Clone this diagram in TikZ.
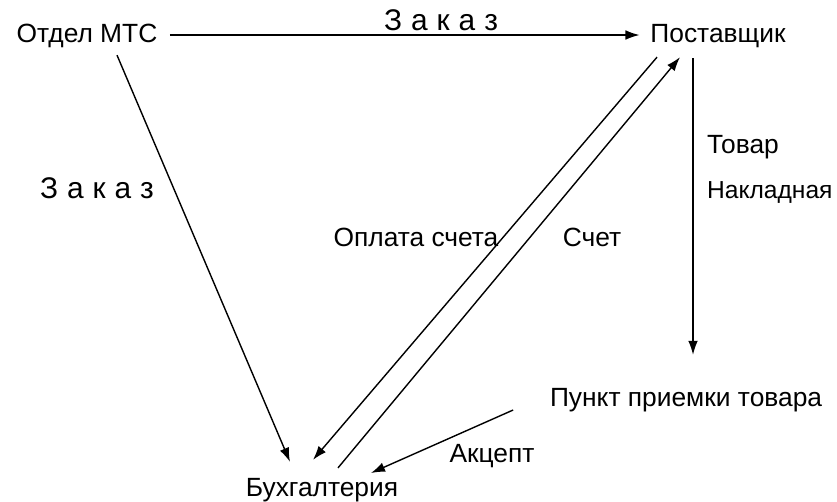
\documentclass[tikz,border=0pt]{standalone}
\usepackage{fontspec}
\setmainfont{Liberation Sans}
\usetikzlibrary{arrows.meta,calc}

\tikzset{
  unit/.style={font=\fontsize{15}{18}\selectfont, text height=11pt, text depth=3pt, inner sep=2pt},
  lbl/.style={font=\fontsize{15}{18}\selectfont, inner sep=1pt},
  spaced/.style={font=\fontsize{17}{20}\selectfont, inner sep=1pt},
  flow/.style={->, line width=0.8pt}
}
\newcommand{\gp}{\hspace{0.3em}}

\begin{document}
\begin{tikzpicture}[x = 0.02cm,y = -0.02cm, >={Latex[length=8pt,width=5.5pt]}]
\useasboundingbox (0,0) rectangle (837,501);
              %units
\node [unit] (mts) at (87,35) {Отдел МТС};
\node [unit] (post) at (718,35) {Поставщик};
\node [unit] (punkt) at (686,399) {Пункт приемки товара};
\node [unit] (buh) at (322,489) {Бухгалтерия};
              %labels
\node [spaced] (zak1) at (441,20) {З\gp а\gp к\gp а\gp з};
\node [spaced] (zak2) at (97,188) {З\gp а\gp к\gp а\gp з};
\node [lbl] (opl) at (416,237) {Оплата счета};
\node [lbl] (sch) at (592,237) {Счет};
\node [lbl, anchor=west] (tov) at (705,147) {Товар};
\node [lbl, anchor=west, font=\fontsize{14}{17}\selectfont] (nakl) at (705,192) {Накладная};
\node [lbl] (akc) at (492,456) {Акцепт};
              %flows
\draw [flow, shorten <=5pt, shorten >=4pt] (mts.east) -- (post.west);
\draw [flow] ($(mts.south)+(30,4)$) -- ($(buh.north)+(-32,-11)$);
\draw [flow] ($(post.south)+(-61,6)$) -- ($(buh.north)+(-9,-13)$);
\draw [flow] ($(buh.north)+(16,-5)$) -- ($(post.south)+(-38,6)$);
\draw [flow] ($(post.south)+(-25,7)$) -- ($(punkt.north)+(7,-28)$);
\draw [flow] ($(punkt.west)+(-33,11)$) -- ($(buh.east)+(-31,-16)$);
\end{tikzpicture}
\end{document}
